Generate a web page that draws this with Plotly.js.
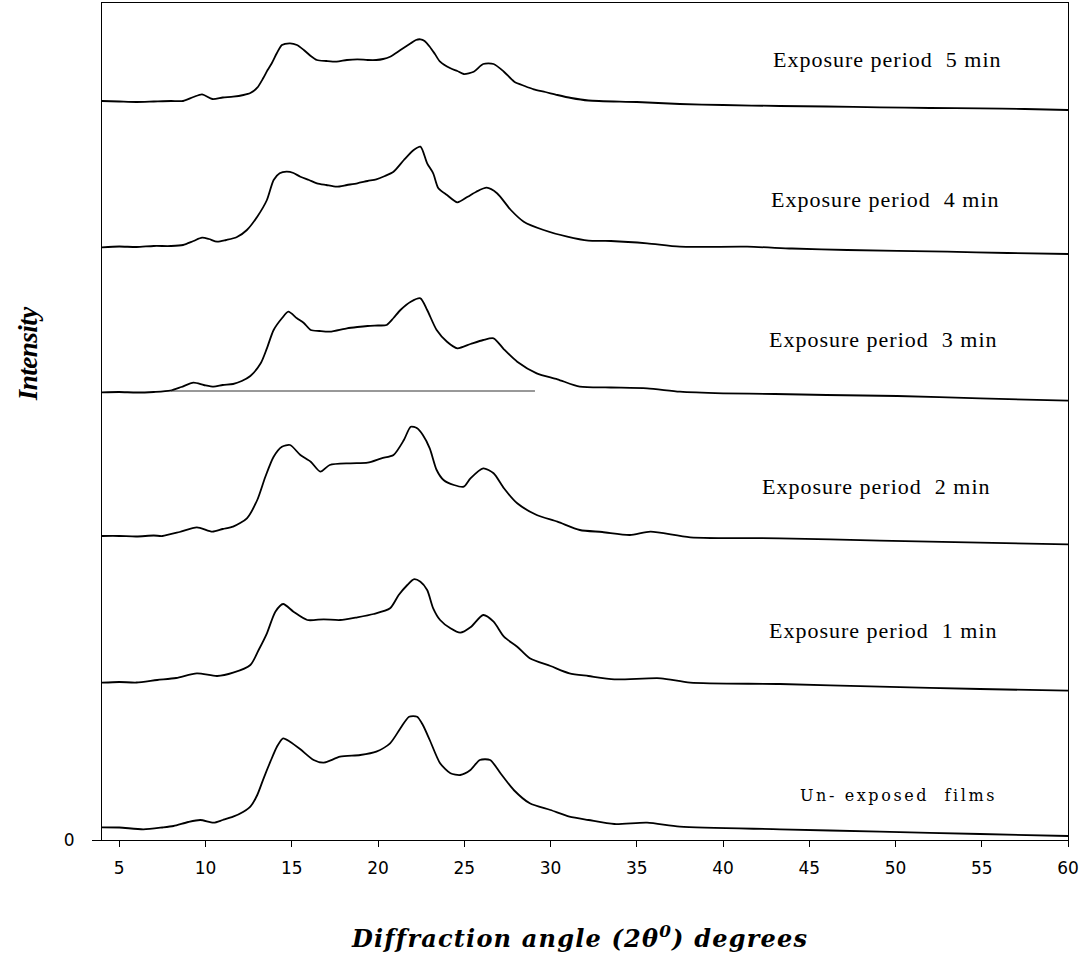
<!DOCTYPE html>
<html>
<head>
<meta charset="utf-8">
<script src="https://cdn.plot.ly/plotly-3.0.1.min.js"></script>
<style>html,body{margin:0;padding:0;background:#fff;}</style>
</head>
<body>
<div id="chart" style="width:1087px;height:956px;"></div>
<script>
// 2-theta (degrees) and stacked intensity (arbitrary units)
const angle5 = [4,5,6,7,8,8.7,9.3,9.8,10.4,11,11.6,12.2,12.6,13.0,13.35,13.6,13.85,14.14,14.43,14.9,15.3,15.7,16.1,16.46,17.0,17.6,18.2,18.8,19.4,19.9,20.3,20.7,21.3,21.9,22.2,22.46,22.7,23.0,23.3,23.6,24.2,24.6,24.97,25.55,26.1,26.7,27.3,27.9,28.5,29.03,29.7,30.4,31.2,32.2,35,37.5,40,43.3,46,49.1,52,54.9,57.5,60];
const int5   = [739,738.5,738,738.5,739,739,743,745.7,741,742.5,743.3,745,747,752.3,762,770,777,787,795,796.7,795,790,784,780,779,778.3,780,780.7,780,780,781,783.3,790,796.7,800,800.7,799,793.3,786,778.3,771.7,769,766,768.3,776,776,768.3,758.3,754,750.7,748,745,742,739.5,738,736,735,734,733.5,732.7,732,731.7,731,730];

const angle4 = [4,5,6,7,8,8.7,9.3,9.8,10.2,10.67,11.2,11.8,12.4,13.0,13.56,13.95,14.3,14.7,15.1,15.5,16.0,16.46,17.0,17.6,18.2,18.8,19.4,19.9,20.4,20.9,21.5,22.07,22.46,22.85,23.2,23.5,24.0,24.6,25.2,25.7,26.3,26.9,27.7,28.45,29.6,30.97,32.2,33.5,35.6,37.5,41.4,44,47.2,53,56.5,60];
const int4   = [592.7,593.5,593,594,594,595,599,602.3,601,598.3,600,602.7,610,623.3,640,660,666.7,668.3,667,663.3,660,656.7,655,653.3,655,656.7,659,660.7,664,668.3,680,690,693.3,676.7,666.7,651.7,645,637.7,643.3,648.3,652.3,646.7,630,618.3,610,603.3,599.3,599,596.7,593.3,593.3,591.5,590,588.3,587,586];

const angle3 = [4,5,6,7,7.96,8.6,9.3,9.9,10.47,11.0,11.6,12.1,12.6,13.2,13.56,13.95,14.43,14.8,15.3,15.7,16.1,16.6,17.2,18.2,18.8,19.4,20.0,20.5,20.9,21.3,21.9,22.46,22.85,23.4,24.0,24.6,25.36,26.1,26.7,27.3,28.07,29.2,30.4,31.7,33.5,35.6,37.5,40,43,46,50.1,54.9,60];
const int3   = [447.7,448,447.5,448,449.3,453,457.3,455,453.3,455,456,459,464,476.7,491.7,510,521.7,528.3,521.7,517,510,509,508.3,511.7,513,514,514.5,515,522,530,538.3,541.7,530,510,498.3,491.7,496,500,501.7,490.7,478.3,466.7,460.7,453.3,452.5,451.7,448.3,446.7,446,445,444,441.7,439.3];

const angle2 = [4,5,6,7,7.5,8.5,9.5,10.4,11.0,11.6,12.4,13.0,13.47,13.95,14.43,14.9,15.5,16.1,16.66,17.2,18.4,19.4,20.2,20.9,21.5,21.9,22.27,22.6,23.0,23.4,23.8,24.4,24.97,25.36,26.1,26.7,27.3,28.07,29.2,30.4,31.7,33,34.6,35.8,38.1,43.3,49.1,54.9,60];
const int2   = [304,304,303.5,304.5,304,308,312.7,308.3,311,313.3,321.7,340,363.3,383.3,393.3,395,385,378.3,368.3,375,376.7,377.3,381.7,385,400,413.3,411.7,405,391.7,370,360,355,353.3,361.7,371.7,366.7,351.7,336.7,325,318.3,310,308,305,308.3,302.7,301.7,299.3,297.3,295.7];

const angle1 = [4,5,6,7.2,8.3,9.5,10.67,11.6,12.6,13.08,13.56,14.05,14.5,15.1,15.9,16.85,17.8,18.8,19.75,20.7,21.2,21.7,22.07,22.46,22.85,23.2,23.6,24.2,24.77,25.36,26.1,26.7,27.3,28.07,28.8,30.0,31.1,32.2,33.7,36.4,38.1,43.3,49.1,54.9,60];
const int1   = [157.3,158,157.5,160,162,166.7,164,167.3,175,190,206.7,228.3,236,228.3,220,220.7,220,222.7,226,231.7,245,255,260.7,258.3,250,231.7,220,211.7,207.3,212.7,225,218.3,203.3,193.3,181.7,174,166.7,164,160.7,161.7,157.3,156,153.3,151,149.3];

const angle0 = [4,5,6.4,7.5,8.15,9.0,9.7,10.47,11.0,11.6,12.2,12.6,13.0,13.37,13.76,14.14,14.5,14.9,15.5,16.27,16.85,17.8,18.97,19.9,20.7,21.3,21.8,22.27,22.6,23.0,23.6,24.2,24.77,25.36,25.9,26.5,27.1,27.87,28.8,30.0,31.1,32.2,33.7,35.6,37.5,43.3,49.1,54.9,60];
const int0   = [12.7,12.5,10.7,12.5,14,18,20,17.3,20,23.3,28.3,33.3,45,61.7,78.3,93.3,101.7,98.3,90.7,80,77.3,83.3,85,88.3,96.7,111.7,123.3,123.3,115,100,76.7,66.7,65,70,80,80,66.7,50,36.7,30,23.3,20,16,17.3,13.3,10.7,8.3,6,4];

// thin reference baseline drawn under the 3 min pattern
const baseAngle = [8.0, 29.1];
const baseInt   = [449, 449];

const xTicks = [5,10,15,20,25,30,35,40,45,50,55,60];
const yTicks = [0];
const yTickText = ['0'];

const seriesNames = ['Un- exposed  films','Exposure period  1 min','Exposure period  2 min','Exposure period  3 min','Exposure period  4 min','Exposure period  5 min'];

const xs = [angle0, angle1, angle2, angle3, angle4, angle5];
const ys = [int0, int1, int2, int3, int4, int5];

const traces = xs.map((x, i) => ({
  x: x, y: ys[i], type: 'scatter', mode: 'lines', name: seriesNames[i],
  line: {color: '#000', width: 1.8, shape: 'spline', smoothing: 0.7},
  hoverinfo: 'skip', showlegend: false
}));
traces.push({x: baseAngle, y: baseInt, type: 'scatter', mode: 'lines',
  line: {color: '#333', width: 1}, hoverinfo: 'skip', showlegend: false});

const serif = 'Liberation Serif';
const wide = 'DejaVu Serif';
const nb = s => s.replace(/  /g, '\u00a0 ');
function lab(text, x, y, family, size, ls) {
  return {text: '<span style="letter-spacing:' + ls + 'px">' + nb(text) + '</span>',
    x: x, y: y, xref: 'x', yref: 'y', showarrow: false,
    xanchor: 'center', yanchor: 'middle',
    font: {family: family, size: size, color: '#000'}};
}

const annotations = [
  lab(seriesNames[5], 49.55, 780.7, serif, 22, 1),
  lab(seriesNames[4], 49.43, 641, serif, 22, 1),
  lab(seriesNames[3], 49.31, 500.7, serif, 22, 1),
  lab(seriesNames[2], 48.9, 354, serif, 22, 1),
  lab(seriesNames[1], 49.28, 210, serif, 22, 1),
  lab(seriesNames[0], 50.15, 45, wide, 16, 2.6),
  {text: '<span style="letter-spacing:-0.5px"><i><b>Intensity</b></i></span>', xref: 'paper', yref: 'y', x: -0.0764, y: 487,
   textangle: -90, showarrow: false, xanchor: 'center', yanchor: 'middle',
   font: {family: serif, size: 27, color: '#000'}},
  {text: '<span style="letter-spacing:1.2px"><i><b>Diffraction angle (2θ<sup>0</sup>) degrees</b></i></span>',
   xref: 'paper', yref: 'paper', x: 0.4939, y: -0.1159, showarrow: false,
   xanchor: 'center', yanchor: 'middle',
   font: {family: wide, size: 24, color: '#000'}}
];

const tickFont = {family: 'DejaVu Sans', size: 17, color: '#000'};

const layout = {
  width: 1087, height: 956, autosize: false,
  margin: {l: 102, r: 19, t: 3, b: 116, pad: 0},
  paper_bgcolor: '#fff', plot_bgcolor: '#fff',
  xaxis: {range: [4, 60], tickvals: xTicks, ticks: 'outside', ticklen: 6, tickwidth: 1,
    tickcolor: '#000', showline: true, linecolor: '#000', linewidth: 1, mirror: true,
    showgrid: false, zeroline: false, ticklabelstandoff: 7, tickfont: tickFont},
  yaxis: {range: [0, 837], tickvals: yTicks, ticktext: yTickText, ticks: 'outside', ticklen: 9,
    tickwidth: 1, tickcolor: '#000', showline: true, linecolor: '#000', linewidth: 1, mirror: true,
    showgrid: false, zeroline: false, ticklabelstandoff: 14, tickfont: tickFont},
  annotations: annotations,
  showlegend: false
};

Plotly.newPlot('chart', traces, layout, {staticPlot: true, displayModeBar: false});
</script>
</body>
</html>
